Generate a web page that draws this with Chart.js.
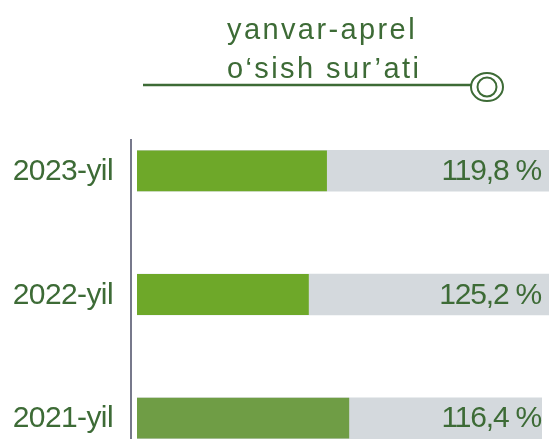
<!DOCTYPE html>
<html>
<head>
<meta charset="utf-8">
<script src="https://cdn.jsdelivr.net/npm/chart.js@4/dist/chart.umd.min.js"></script>
<style>
  html, body { margin: 0; padding: 0; background: #fff; overflow: hidden; }
  #wrap { position: relative; width: 549px; height: 480px; }
</style>
</head>
<body>
<div id="wrap"><canvas id="growthChart"></canvas></div>
<script>
// rows, top to bottom
const years = ['2023-yil', '2022-yil', '2021-yil'];
const growthRate = [119.8, 125.2, 116.4];
const barFill = [46.1, 41.7, 51.5];
const track = [100, 100, 98.3];
const titleLines = ['yanvar-aprel', 'o\u2018sish sur\u2019ati'];

const darkGreen = '#3d6b36';
const fontFamily = '"Liberation Sans", Arial, sans-serif';

const formatRate = v => v.toFixed(1).replace('.', ',') + ' %';

// header text, rule with ring marker, left axis line, row and value labels
const decorPlugin = {
  id: 'decor',
  afterDraw(chart) {
    const ctx = chart.ctx;
    ctx.save();

    ctx.fillStyle = darkGreen;
    ctx.font = '29px ' + fontFamily;
    ctx.letterSpacing = '2.4px';
    ctx.textAlign = 'left';
    ctx.textBaseline = 'alphabetic';
    ctx.fillText(titleLines[0], 227, 39);
    ctx.fillText(titleLines[1], 227, 78);

    ctx.strokeStyle = darkGreen;
    ctx.lineWidth = 2.5;
    ctx.beginPath();
    ctx.moveTo(143, 85);
    ctx.lineTo(471, 85);
    ctx.stroke();
    ctx.lineWidth = 2;
    ctx.beginPath();
    ctx.ellipse(487, 87, 16, 14, 0, 0, Math.PI * 2);
    ctx.stroke();
    ctx.beginPath();
    ctx.arc(487, 87, 9.5, 0, Math.PI * 2);
    ctx.stroke();

    ctx.strokeStyle = '#77798b';
    ctx.lineWidth = 2;
    ctx.beginPath();
    ctx.moveTo(131, 139);
    ctx.lineTo(131, 480);
    ctx.stroke();

    const meta = chart.getDatasetMeta(1);
    ctx.fillStyle = darkGreen;
    ctx.font = '30px ' + fontFamily;
    ctx.textBaseline = 'middle';
    ctx.textAlign = 'right';
    meta.data.forEach((bar, i) => {
      ctx.letterSpacing = '-0.6px';
      ctx.fillText(years[i], 113, bar.y + 1);
      ctx.letterSpacing = '-1.2px';
      ctx.fillText(formatRate(growthRate[i]), 541, bar.y + 1);
    });
    ctx.restore();
  }
};

new Chart(document.getElementById('growthChart'), {
  type: 'bar',
  data: {
    labels: years,
    datasets: [
      {
        data: track,
        backgroundColor: '#d4d9dd',
        categoryPercentage: 1,
        barPercentage: 0.335,
        grouped: false,
        order: 2
      },
      {
        data: barFill,
        backgroundColor: ['#6ea829', '#6ea829', '#6f9d45'],
        categoryPercentage: 1,
        barPercentage: 0.33,
        grouped: false,
        order: 1
      }
    ]
  },
  options: {
    indexAxis: 'y',
    responsive: true,
    maintainAspectRatio: false,
    animation: false,
    layout: { padding: { top: 109, right: 0, bottom: 0, left: 0 } },
    plugins: {
      legend: { display: false },
      tooltip: { enabled: false }
    },
    scales: {
      x: {
        min: 0,
        max: 100,
        display: false
      },
      y: {
        grid: { display: false },
        border: { display: false },
        ticks: { display: false },
        afterFit(scale) {
          scale.width = 137;
        }
      }
    }
  },
  plugins: [decorPlugin]
});
</script>
</body>
</html>
